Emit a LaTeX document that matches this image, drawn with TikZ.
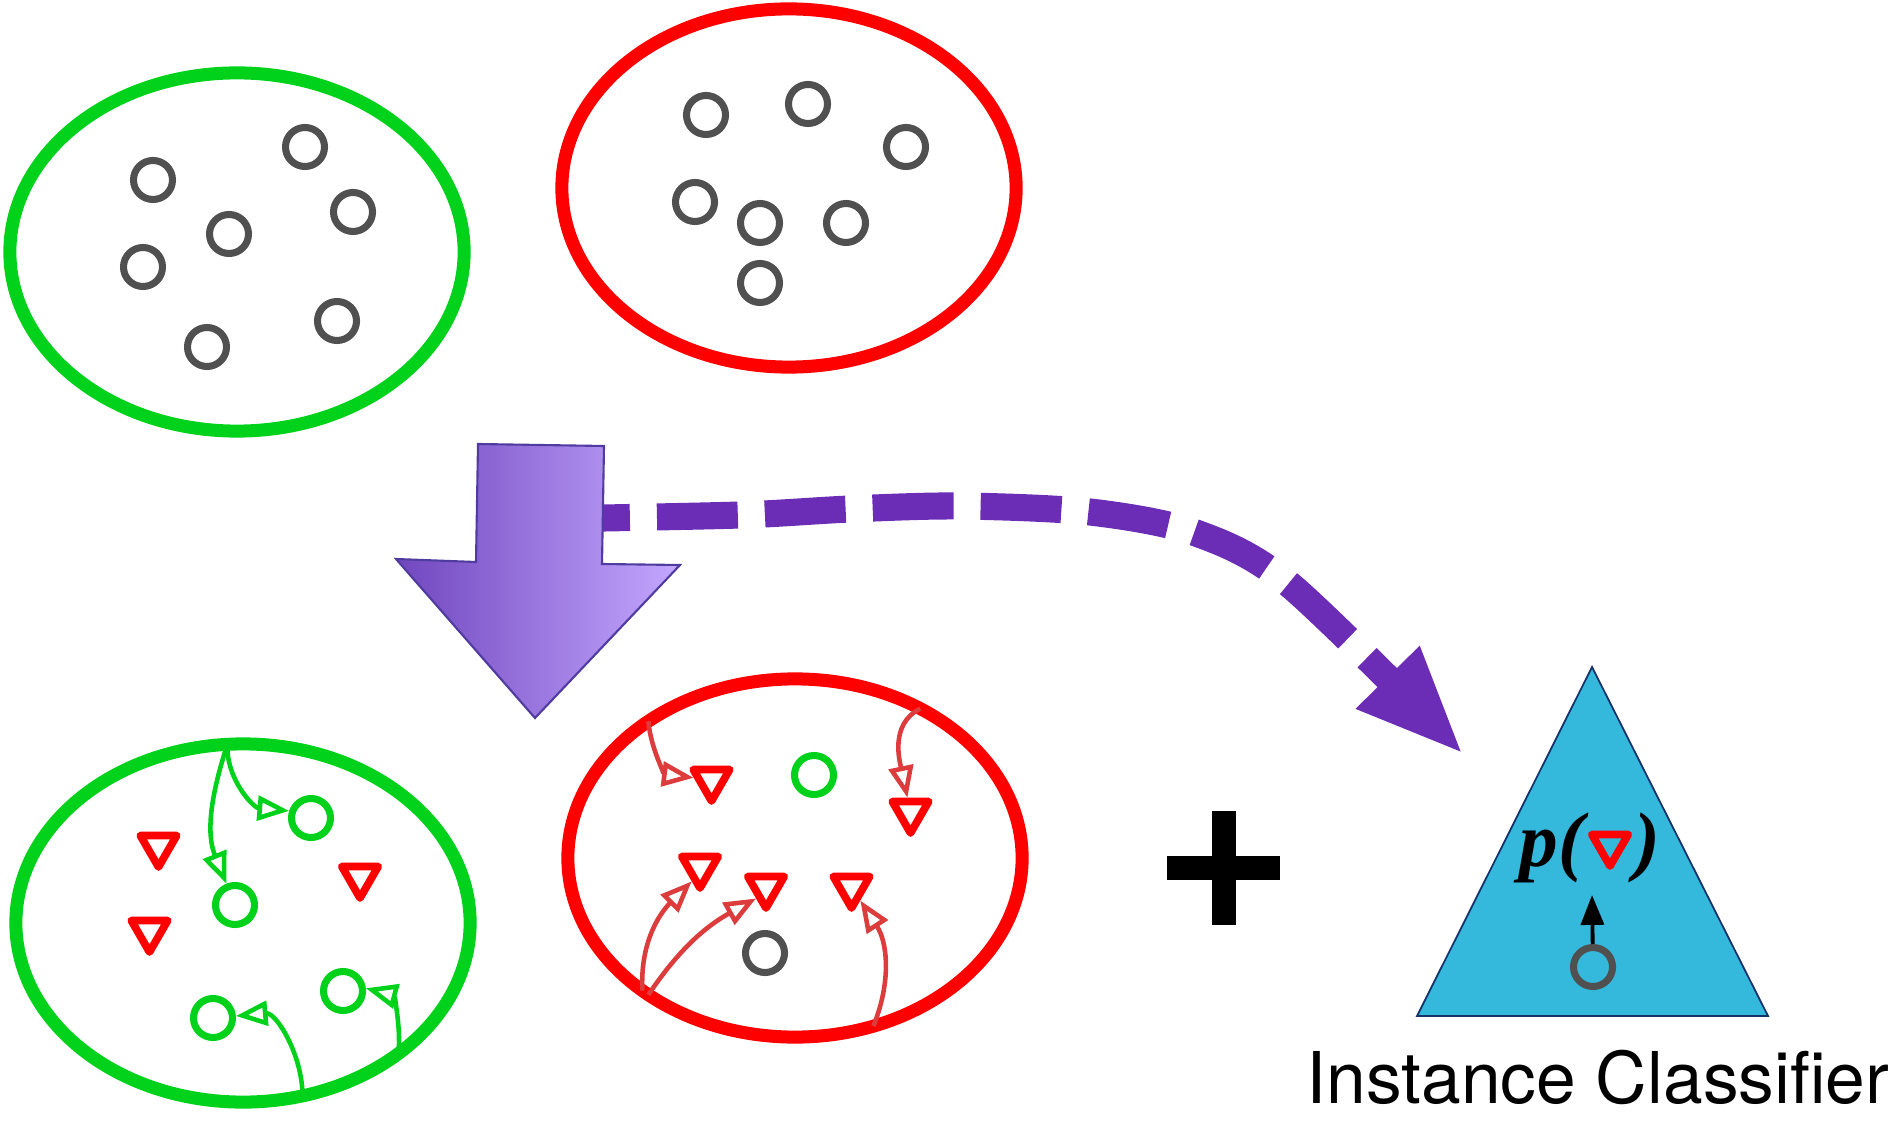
\documentclass[tikz,border=0pt]{standalone}
\usepackage{fontspec}
\newfontfamily\labelfont{TeX Gyre Heros}
\newfontfamily\probfont{Liberation Serif}
\usetikzlibrary{shapes.geometric,arrows.meta}

\definecolor{bagred}{RGB}{255,0,0}
\definecolor{baggreen}{RGB}{0,210,28}
\definecolor{instgray}{RGB}{80,80,80}
\definecolor{linkred}{RGB}{221,60,60}
\definecolor{flowpurple}{RGB}{108,45,182}
\definecolor{arrowdark}{RGB}{112,70,190}
\definecolor{arrowlight}{RGB}{196,168,255}
\definecolor{arrowedge}{RGB}{80,60,160}
\definecolor{clfblue}{RGB}{52,184,219}
\definecolor{clfedge}{RGB}{22,50,105}

\tikzset{
  bag/.style={ellipse, line width=3.7pt, minimum width=4.54cm, minimum height=3.58cm, inner sep=0pt, outer sep=0pt},
  graydot/.style={circle, draw=instgray, line width=2pt, minimum size=0.39cm, inner sep=0pt},
  greendot/.style={graydot, draw=baggreen},
  redtri/.style={regular polygon, regular polygon sides=3, shape border rotate=180, draw=bagred, line width=2.2pt, line join=round, minimum size=0.42cm, inner sep=0pt},
  glink/.style={draw=baggreen, line width=1.3pt, -{Triangle[open, length=9pt, width=7pt]}},
  rlink/.style={glink, draw=linkred},
  problbl/.style={inner sep=0pt, font=\probfont\fontsize{22}{22}\selectfont\bfseries\itshape},
}

\begin{document}
\begin{tikzpicture}[x=0.01cm, y=-0.01cm]
    \useasboundingbox (0,0) rectangle (1898,1128);

    % Bags before
    \node[bag, draw=baggreen] (gtop) at (237,252) {};
    \node[bag, draw=bagred] (rtop) at (789,188) {};
    \foreach \x/\y [count=\i] in {153/180, 305/147, 353/212, 229/234, 143/267, 337/321, 207/347}
        \node[graydot] (g\i) at (\x,\y) {};
    \foreach \x/\y [count=\i] in {706/115, 808/104, 906/147, 695/202, 760/223, 846/223, 760/283}
        \node[graydot] (r\i) at (\x,\y) {};

    % Dashed flow to the classifier
    \coordinate (flowstart) at (549,519);
    \coordinate (flowtip) at (1464,755);
    \draw[flowpurple, line width=7.7pt, dash pattern=on 23pt off 7.7pt, -{Triangle[length=31pt, width=23pt]}]
        plot[smooth] coordinates {(flowstart) (740,515) (850,509) (960,506) (1090,512) (1196,533) (1290,585) (flowtip)};

    % Big arrow
    \draw[draw=arrowedge, line width=0.6pt, left color=arrowdark, right color=arrowlight]
        (478,444) -- (604,446) -- (602,564) -- (680,565) -- (535,718) -- (396,559) -- (476,562) -- cycle;

    % Bags after
    \node[bag, draw=baggreen] (gbot) at (243,923) {};
    \node[bag, draw=bagred] (rbot) at (795,858) {};

    % Green bag contents
    \node[redtri] (ga) at (158.5,846) {};
    \node[redtri] (gb) at (360,877) {};
    \node[redtri] (gc) at (149.5,931) {};
    \node[greendot] (gp1) at (311,818) {};
    \node[greendot] (gp2) at (235,905) {};
    \node[greendot] (gp3) at (213,1018) {};
    \node[greendot] (gp4) at (343,991) {};
    \draw[glink] (gbot.95) to[out=-108, in=112] (gp2);
    \draw[glink] (gbot.95) to[out=-92, in=175] (gp1.162);
    \draw[glink] (gbot.-71) to[out=90, in=5] (gp3);
    \draw[glink] (gbot.-40) to[out=85, in=-15] (gp4.7);

    % Red bag contents
    \node[redtri] (ra) at (711.5,780) {};
    \node[redtri] (rb) at (910.5,812) {};
    \node[redtri] (rc) at (700,867) {};
    \node[redtri] (rd) at (766,887) {};
    \node[redtri] (re) at (851.5,887) {};
    \node[greendot] (rp) at (814,775) {};
    \node[graydot] (rn) at (765,953) {};
    \draw[rlink] (rbot.137) to[out=-85, in=173] (ra);
    \draw[rlink] (rbot.50) to[out=206, in=102] (rb);
    \draw[rlink] (rbot.-139) to[out=93, in=225] (rc.240);
    \draw[rlink] (rbot.-137) to[out=56, in=209] (rd.229);
    \draw[rlink] (rbot.-65) to[out=68, in=-57] (re);

    % Plus
    \fill (1167,856) rectangle (1280,880);
    \fill (1212,811) rectangle (1236,925);

    % Instance classifier
    \filldraw[fill=clfblue, draw=clfedge, line width=0.5pt] (1592,667) -- (1768,1016) -- (1417,1016) -- cycle;
    \node[redtri] (ptri) at (1610,845) {};
    \node[problbl, anchor=base east] (plbl) at (1585,866) {p(};
    \node[problbl, anchor=base west] (prbl) at (1634,866) {)};
    \node[graydot] (cinst) at (1593,967) {};
    \coordinate (ctip) at (1592,895);
    \draw[line width=1.1pt, -{Triangle[length=8.5pt, width=6.5pt]}] (cinst) -- (ctip);
    \node[anchor=base, inner sep=0pt, font=\labelfont\fontsize{20.3}{20.3}\selectfont] (clflbl) at (1598,1103) {Instance Classifier};
\end{tikzpicture}
\end{document}
